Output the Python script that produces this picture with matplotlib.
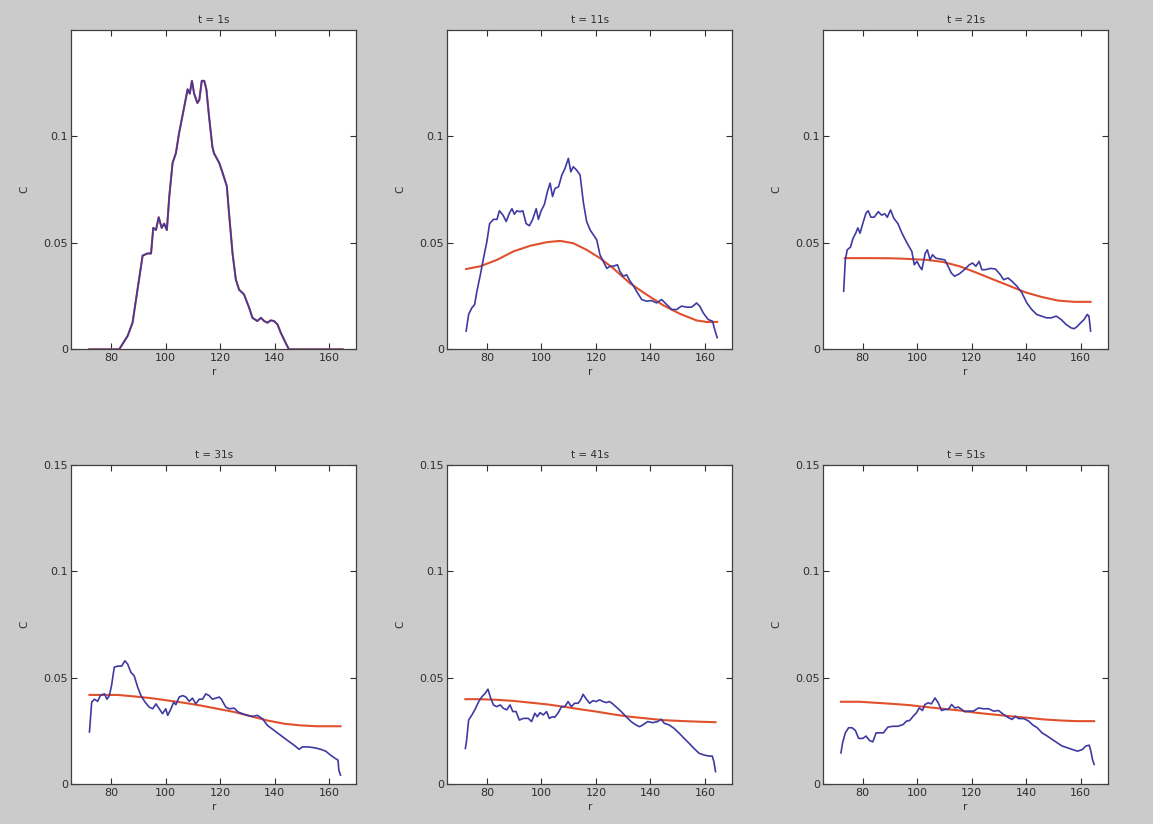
import matplotlib
matplotlib.use("Agg")
import matplotlib.pyplot as plt
import numpy as np

# ---------------- data ----------------
titles = ["t = 1s", "t = 11s", "t = 21s", "t = 31s", "t = 41s", "t = 51s"]
xticks = [80, 100, 120, 140, 160]

# t = 1s (measured = model)
r1 = [72, 76, 80, 83, 86.1, 87.9, 91.6, 93.4, 94.7, 95.5, 96.5, 97.5, 98.6, 99.5, 100.5,
      101.4, 102.6, 103.8, 105, 106.9, 108.1, 108.9, 109.7, 110.5, 111.7, 112.4, 113.3,
      114.2, 115, 116, 117.2, 117.8, 119.7, 120.9, 122.5, 123.3, 124.6, 125.8, 127,
      128.8, 130.7, 131.9, 133.7, 135, 136.2, 137.4, 138.6, 139.8, 141.1, 142.3, 144.1,
      145.3, 150, 155, 160, 165]
c1 = [0, 0, 0, 0, 0.0063, 0.0125, 0.044, 0.045, 0.045, 0.057, 0.056, 0.062, 0.057, 0.059,
      0.056, 0.072, 0.0875, 0.092, 0.1016, 0.114, 0.122, 0.120, 0.126, 0.120, 0.1156,
      0.117, 0.126, 0.126, 0.122, 0.109, 0.095, 0.092, 0.0875, 0.083, 0.0766, 0.064, 0.045,
      0.0328, 0.028, 0.0258, 0.0195, 0.0148, 0.0133, 0.0148, 0.0133, 0.0125, 0.0136,
      0.0133, 0.0117, 0.0078, 0.003, 0, 0, 0, 0, 0]

# t = 11s
r2 = [72.4, 73.3, 74.5, 75.5, 76.3, 77.6, 78.8, 80, 81, 82.4, 83.7, 84.6, 85.9, 87.1, 88.3,
      89.2, 90.1, 91, 92.2, 93.2, 94.4, 95.6, 96.8, 98.1, 98.9, 99.9, 101.1, 102.2, 103.2,
      104.1, 105, 106.3, 107.5, 108.7, 109.9, 110.8, 111.7, 113, 114.2, 115.4, 116.6,
      117.9, 119.1, 120.3, 121.5, 122.7, 124, 125.2, 126.4, 127.9, 128.8, 130, 131.3,
      132.5, 133.7, 134.9, 136.8, 138.6, 140.4, 142.3, 144.1, 146, 147.8, 149.6, 151.4,
      153.3, 155.1, 156.3, 156.9, 158.1, 159.4, 161.2, 162.8, 163.6, 164.5]
c2 = [0.0086, 0.0164, 0.0195, 0.021, 0.027, 0.035, 0.043, 0.0506, 0.059, 0.061, 0.061,
      0.065, 0.063, 0.060, 0.064, 0.066, 0.0634, 0.065, 0.0646, 0.065, 0.059, 0.058, 0.061,
      0.066, 0.061, 0.065, 0.068, 0.074, 0.078, 0.0717, 0.0755, 0.0763, 0.0818, 0.085,
      0.0896, 0.0833, 0.0857, 0.084, 0.0818, 0.069, 0.060, 0.056, 0.0537, 0.0514, 0.0444,
      0.0413, 0.038, 0.039, 0.039, 0.0397, 0.0366, 0.0343, 0.035, 0.032, 0.030, 0.0273,
      0.0234, 0.0226, 0.0229, 0.0218, 0.0234, 0.021, 0.0187, 0.0187, 0.0203, 0.0198,
      0.0198, 0.021, 0.0218, 0.0203, 0.0171, 0.014, 0.0132, 0.0093, 0.0055]
rm2 = [72.4, 77.6, 83.7, 89.8, 95.9, 102, 106.9, 111.7, 116.6, 121.5, 126.4, 132.5, 138.6,
       144.7, 150.8, 156.9, 161, 164.5]
m2 = [0.0377, 0.039, 0.042, 0.046, 0.0486, 0.0503, 0.0509, 0.0498, 0.0467, 0.0428, 0.038,
      0.031, 0.0257, 0.0207, 0.0167, 0.0136, 0.0128, 0.0129]

# t = 21s
r3 = [73, 73.6, 74.3, 75.5, 76.4, 77.4, 78.2, 79, 80, 81.2, 82, 83, 84.2, 85.7, 86.9, 88.1,
      89, 90.2, 91.4, 92.9, 94.4, 96.2, 98, 98.9, 99.9, 100.8, 101.7, 102.9, 103.7, 104.7,
      105.6, 106.8, 108.3, 110.1, 111.3, 112.5, 113.7, 115.5, 117.3, 119.1, 120.3, 121.5,
      122.7, 123.7, 125.1, 126.9, 128.7, 130.5, 131.7, 133.3, 134.8, 136.6, 138.4, 140.2,
      142, 143.8, 145.6, 147.4, 149.2, 151, 152.8, 154.6, 156.4, 157.6, 158.8, 160, 161.2,
      162.4, 163, 163.6]
c3 = [0.0273, 0.042, 0.0467, 0.048, 0.052, 0.0545, 0.057, 0.0545, 0.059, 0.064, 0.065,
      0.062, 0.062, 0.0646, 0.063, 0.0636, 0.062, 0.0654, 0.0615, 0.059, 0.0545, 0.050,
      0.046, 0.0397, 0.0413, 0.039, 0.0374, 0.045, 0.0467, 0.042, 0.0444, 0.0428, 0.0424,
      0.042, 0.039, 0.0358, 0.0343, 0.0355, 0.0374, 0.0397, 0.0405, 0.039, 0.0413, 0.0374,
      0.0374, 0.038, 0.0377, 0.035, 0.0327, 0.0335, 0.0319, 0.0296, 0.0265, 0.0218, 0.0187,
      0.0164, 0.0156, 0.0148, 0.0148, 0.0156, 0.014, 0.0117, 0.0101, 0.0097, 0.0109,
      0.0125, 0.014, 0.0164, 0.0156, 0.0086]
rm3 = [73.4, 79.4, 85.4, 91.4, 97.4, 103.5, 109.5, 115.5, 121.5, 127.5, 133.6, 139.6,
       145.6, 151.6, 157.6, 163.6]
m3 = [0.0428, 0.0428, 0.0428, 0.0427, 0.0424, 0.042, 0.041, 0.039, 0.0361, 0.033, 0.0299,
      0.0268, 0.0246, 0.0229, 0.0223, 0.0223]

# t = 31s
r4 = [72.1, 72.9, 73.9, 75.1, 76.1, 77.6, 78.5, 79.4, 80.2, 81.2, 82.4, 83.9, 85.1, 86.1,
      87.3, 88.5, 89.8, 91, 92.5, 94, 95.3, 96.5, 97.7, 98.9, 100.1, 100.8, 102, 103, 103.8,
      105, 106.3, 107.5, 108.7, 109.9, 111.1, 112.4, 113.6, 114.8, 116, 117.2, 118.5,
      119.7, 120.5, 122.1, 123.3, 125.2, 126.6, 128.2, 130.1, 131.9, 133.7, 135.6, 137.4,
      139.8, 142.3, 144.7, 147.2, 149, 150.2, 152.6, 155.1, 156.9, 158.8, 160.6, 162.4,
      163.3, 163.6, 164.2]
c4 = [0.0246, 0.0386, 0.040, 0.039, 0.0417, 0.0425, 0.040, 0.0417, 0.0464, 0.055, 0.0555,
      0.0555, 0.058, 0.0565, 0.0526, 0.051, 0.0456, 0.0417, 0.0386, 0.0363, 0.0355, 0.0378,
      0.0355, 0.0332, 0.0355, 0.0324, 0.0355, 0.0386, 0.0374, 0.041, 0.0417, 0.041, 0.039,
      0.0405, 0.0378, 0.040, 0.040, 0.0425, 0.0417, 0.040, 0.0405, 0.041, 0.040, 0.0363,
      0.0355, 0.0358, 0.034, 0.0332, 0.0324, 0.0319, 0.0324, 0.0308, 0.0277, 0.0254, 0.023,
      0.0207, 0.0184, 0.0165, 0.0176, 0.0176, 0.0171, 0.0165, 0.0156, 0.0137, 0.0121,
      0.0114, 0.0067, 0.0044]
rm4 = [72.1, 82.4, 88.5, 94.7, 100.8, 106.9, 113, 119.1, 125.2, 131.3, 137.4, 143.5,
       149.6, 155.7, 164.2]
m4 = [0.042, 0.042, 0.0413, 0.0405, 0.0394, 0.0383, 0.037, 0.0355, 0.034, 0.032, 0.030,
      0.0285, 0.0277, 0.0273, 0.0273]

# t = 41s
r5 = [72.1, 72.5, 73.3, 74.5, 75.7, 77, 78.2, 79.4, 80.4, 81.2, 82.4, 83.6, 84.9, 86.1,
      87.3, 88.5, 89.5, 90.7, 91.9, 93.4, 95.2, 96.4, 97.6, 98.5, 99.5, 100.7, 101.9, 102.9,
      104.1, 104.9, 106.2, 107.4, 108.6, 109.8, 111, 112.2, 113.5, 114.4, 115.3, 116.5,
      117.7, 118.9, 120.1, 121.4, 122.6, 123.8, 125, 126.2, 128, 129.3, 131.1, 132.9,
      134.7, 136, 137.2, 139, 140.8, 142.7, 143.9, 145.1, 146.9, 148.7, 150.6, 152.4,
      154.2, 156, 157.9, 159.7, 161.5, 162.7, 163.3, 163.9]
c5 = [0.0169, 0.020, 0.0302, 0.0326, 0.0353, 0.0389, 0.0412, 0.0428, 0.0447, 0.0412,
      0.0373, 0.0365, 0.0373, 0.0357, 0.035, 0.0373, 0.0342, 0.0342, 0.0302, 0.031, 0.031,
      0.0295, 0.0334, 0.0318, 0.0337, 0.0326, 0.0342, 0.031, 0.0318, 0.0315, 0.0337,
      0.0365, 0.0365, 0.0389, 0.0365, 0.0381, 0.0381, 0.0397, 0.0423, 0.040, 0.0381,
      0.0393, 0.0389, 0.0397, 0.0389, 0.0384, 0.0389, 0.0378, 0.0357, 0.0342, 0.0318,
      0.0295, 0.0279, 0.0271, 0.0279, 0.0295, 0.029, 0.0295, 0.0306, 0.0287, 0.0279,
      0.0263, 0.024, 0.0216, 0.0193, 0.0169, 0.0146, 0.0138, 0.0133, 0.0133, 0.0107, 0.006]
rm5 = [72.1, 77.6, 83.6, 89.7, 95.8, 101.9, 108, 114.1, 120.1, 126.2, 132.3, 138.4, 144.5,
       150.6, 156.6, 163.9]
m5 = [0.040, 0.040, 0.0397, 0.0392, 0.0384, 0.0376, 0.0365, 0.0353, 0.0342, 0.0329,
      0.0318, 0.031, 0.0302, 0.0298, 0.0295, 0.0292]

# t = 51s
r6 = [72, 72.6, 73.6, 74.8, 76.1, 77.3, 78.5, 80, 81.2, 82.5, 83.7, 84.9, 86.2, 87.6, 89.2,
      91.1, 92.9, 94.8, 96, 97.2, 98.5, 99.7, 100.7, 101.9, 102.8, 104, 105.2, 106.5,
      107.7, 108.9, 110.2, 111.4, 112.6, 113.8, 115.1, 116.3, 117.5, 118.8, 120.6, 122.5,
      124.3, 126.2, 128, 129.8, 131.7, 133.5, 134.8, 136, 137.2, 139.1, 140.9, 142.2, 144,
      145.8, 147.7, 149.5, 151.4, 153.2, 155.1, 156.9, 158.8, 160.6, 161.8, 163.1, 163.7,
      164.3, 164.9]
c6 = [0.0148, 0.0195, 0.0242, 0.0266, 0.0266, 0.0253, 0.0216, 0.0216, 0.0227, 0.0206,
      0.020, 0.0242, 0.0242, 0.0242, 0.0269, 0.0273, 0.0273, 0.0281, 0.0297, 0.030, 0.032,
      0.0336, 0.0359, 0.0347, 0.0375, 0.0383, 0.0378, 0.0406, 0.0383, 0.0347, 0.0352,
      0.0352, 0.0375, 0.0359, 0.0363, 0.0352, 0.0341, 0.0344, 0.0344, 0.0359, 0.0355,
      0.0355, 0.0344, 0.0347, 0.0328, 0.0313, 0.0305, 0.032, 0.0309, 0.0309, 0.0297,
      0.0281, 0.0266, 0.0242, 0.0227, 0.0211, 0.0195, 0.018, 0.0172, 0.0164, 0.0156,
      0.0164, 0.018, 0.0184, 0.0156, 0.0117, 0.0094]
rm6 = [72, 78.8, 84.9, 91.1, 97.2, 103.4, 109.5, 115.7, 121.8, 128, 134.2, 140.3, 146.5,
       152.6, 158.8, 164.9]
m6 = [0.0388, 0.0388, 0.0383, 0.0378, 0.0372, 0.0363, 0.0355, 0.0347, 0.0336, 0.0328,
      0.032, 0.0313, 0.0305, 0.030, 0.0297, 0.0297]

measured = [(r1, c1), (r2, c2), (r3, c3), (r4, c4), (r5, c5), (r6, c6)]
model = [(r1, c1), (rm2, m2), (rm3, m3), (rm4, m4), (rm5, m5), (rm6, m6)]

# ---------------- figure ----------------
BG = "#cbcbcb"
BLUE = "#3f3aa2"
RED = "#e0502c"
TXT = "#2e2e2e"

fig = plt.figure(figsize=(11.53, 8.24), dpi=100, facecolor=BG)

lefts = [0.062, 0.388, 0.714]
bottoms = [0.576, 0.048]
W, H = 0.247, 0.388

for i in range(6):
    row, col = divmod(i, 3)
    ax = fig.add_axes([lefts[col], bottoms[row], W, H])
    ax.set_facecolor("white")
    rm, mm = model[i]
    rr, cc = measured[i]
    ax.plot(rm, mm, color=RED, lw=1.5, zorder=2)
    ax.plot(rr, cc, color=BLUE, lw=1.2, zorder=3)
    ax.set_xlim(65.5, 170)
    ax.set_ylim(0, 0.15)
    ax.set_xticks(xticks)
    ax.set_xticklabels([str(v) for v in xticks])
    if row == 0:
        yt = [0, 0.05, 0.1]
    else:
        yt = [0, 0.05, 0.1, 0.15]
    ax.set_yticks(yt)
    ax.set_yticklabels(["0" if v == 0 else f"{v:g}" for v in yt])
    ax.tick_params(direction="in", top=True, right=True, length=4, width=0.8,
                   labelsize=8, colors=TXT, pad=2.5)
    for s in ax.spines.values():
        s.set_color("#404040")
        s.set_linewidth(0.9)
    ax.set_title(titles[i], fontsize=7.5, color=TXT, pad=5)
    ax.set_xlabel("r", fontsize=7.5, color=TXT, labelpad=3)
    ax.set_ylabel("C", fontsize=7.5, color=TXT, labelpad=10)

fig.savefig("out.png", dpi=100, facecolor=BG)
